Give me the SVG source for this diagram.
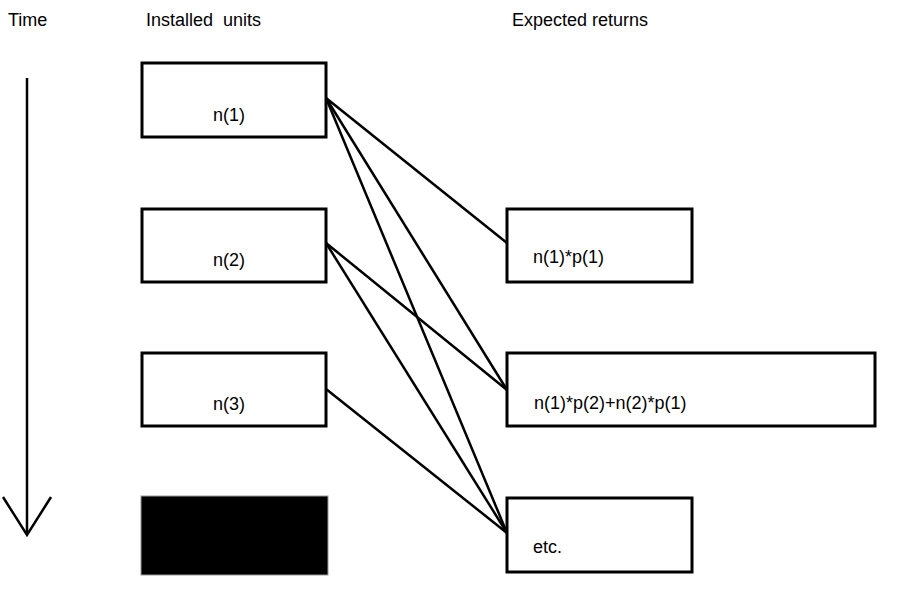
<svg xmlns="http://www.w3.org/2000/svg" width="900" height="602" viewBox="0 0 900 602">
<style>
.box{fill:#fff;stroke:#000;stroke-width:3}
.lbl{font-family:"Liberation Sans",Arial,sans-serif;font-size:18px;fill:#000}
.conn line{stroke:#000;stroke-width:2.5}
</style>
<rect width="900" height="602" fill="#fff"/>
<g id="headers">
<text class="lbl" x="8" y="26">Time</text>
<text class="lbl" x="146" y="26">Installed<tspan x="223">units</tspan></text>
<text class="lbl" x="512" y="26">Expected returns</text>
</g>
<g id="time-arrow" stroke="#000" stroke-width="2.5" fill="none">
<line x1="27" y1="78" x2="27" y2="534"/>
<polyline points="3,497 27,535 51,497"/>
</g>
<g id="n1"><rect class="box" x="142" y="63" width="184" height="74"/><text class="lbl" x="213" y="121">n(1)</text></g>
<g id="n2"><rect class="box" x="142" y="209" width="184" height="73"/><text class="lbl" x="213" y="266">n(2)</text></g>
<g id="n3"><rect class="box" x="142" y="353" width="184" height="73"/><text class="lbl" x="213" y="410">n(3)</text></g>
<g id="n4"><rect x="141" y="496" width="187" height="79" fill="#000" stroke="#999" stroke-width="1"/></g>
<g id="r1"><rect class="box" x="507" y="209" width="185" height="73"/><text class="lbl" x="533" y="263">n(1)*p(1)</text></g>
<g id="r2"><rect class="box" x="507" y="353" width="368" height="73"/><text class="lbl" x="534" y="409">n(1)*p(2)+n(2)*p(1)</text></g>
<g id="r3"><rect class="box" x="507" y="498" width="185" height="74"/><text class="lbl" x="533" y="553">etc.</text></g>
<g id="connectors" class="conn">
<line x1="326" y1="98" x2="507" y2="243"/>
<line x1="326" y1="98" x2="507" y2="390"/>
<line x1="326" y1="98" x2="507" y2="533"/>
<line x1="326" y1="243" x2="507" y2="390"/>
<line x1="326" y1="243" x2="507" y2="533"/>
<line x1="326" y1="389" x2="507" y2="533"/>
</g>
</svg>
